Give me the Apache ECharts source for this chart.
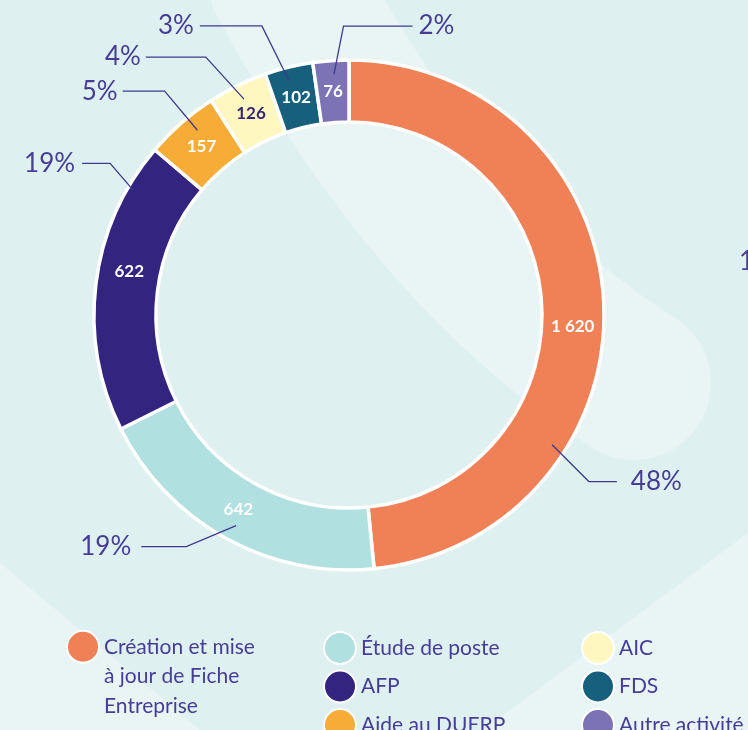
<!DOCTYPE html>
<html>
<head>
<meta charset="utf-8">
<script src="https://cdn.jsdelivr.net/npm/echarts@6/dist/echarts.min.js"></script>
<style>
html,body{margin:0;padding:0;background:#DEF0EF;}
#c{width:748px;height:730px;}
</style>
</head>
<body>
<div id="c"></div>
<script>
// ---------- DATA ----------
const categories = [
  'Création et mise à jour de Fiche Entreprise',
  'Étude de poste',
  'AFP',
  'Aide au DUERP',
  'AIC',
  'FDS',
  'Autre activité'
];
const values = [1620, 642, 622, 157, 126, 102, 76];
const legendColumn1 = ['Création et mise à jour de Fiche Entreprise'];
const legendColumn2 = ['Étude de poste', 'AFP', 'Aide au DUERP'];
const legendColumn3 = ['AIC', 'FDS', 'Autre activité'];

// ---------- STYLE ----------
const colors = ['#F08157', '#B0E0E0', '#32247F', '#F6AC37', '#FFF6C0', '#16607E', '#7B73B4'];
const valueLabelColors = ['#FFFFFF', '#FFFFFF', '#FFFFFF', '#FFFFFF', '#32247F', '#FFFFFF', '#FFFFFF'];
const TEXT = '#463E96';
const LINE = '#3F3A8F';
const BG_LIGHT = '#E8F5F4';
const FONT = 'Lato, "Noto Sans", sans-serif';
const CX = 349, CY = 315, R0 = 193, R1 = 255;
// angular nudges (deg) for the in-ring value labels
const valueShift = [5.8, 0.7, 4.2, 0, 0, 0, 0];
// callout geometry: angular shift of start, elbow shift, radii, horizontal length, side, text gap
const callout = [
  {shift: 35.4, eShift: 2.2, r0: 241, r1: 292, len: 28, side: 1, gap: 14},
  {shift: -0.7, eShift: 6.9, r0: 239, r1: 283, len: 45, side: -1, gap: 10},
  {shift: 23.2, eShift: 2.3, r0: 250, r1: 283, len: 28, side: -1, gap: 7},
  {shift: 1.8, eShift: -0.1, r0: 239, r1: 290, len: 42, side: -1, gap: 5},
  {shift: 0, eShift: -3.1, r0: 240, r1: 295, len: 60, side: -1, gap: 5},
  {shift: -0.7, eShift: -2.4, r0: 242, r1: 302, len: 62, side: -1, gap: 6},
  {shift: 0.5, eShift: 2.5, r0: 241, r1: 289, len: 69, side: 1, gap: 6}
];
// two leading blank lines keep the first text line level with the legend dot
const legendWrap = {
  'Création et mise à jour de Fiche Entreprise': '\n\nCréation et mise\nà jour de Fiche\nEntreprise'
};

// ---------- helpers ----------
const total = values.reduce((a, b) => a + b, 0);
let acc = 0;
const midAngles = values.map(v => { const m = (acc + v / 2) / total * 360; acc += v; return m; });
function polar(r, deg) {
  const a = deg * Math.PI / 180;
  return [CX + r * Math.sin(a), CY - r * Math.cos(a)];
}
function fmtNum(v) { return String(v).replace(/\B(?=(\d{3})+(?!\d))/g, ' '); }

const chart = echarts.init(document.getElementById('c'), null, {renderer: 'canvas'});

function legendCfg(data, left, extra) {
  return Object.assign({
    data: data,
    orient: 'vertical',
    left: left,
    top: 631,
    height: 200,
    padding: 0,
    icon: 'circle',
    itemWidth: 32,
    itemHeight: 32,
    itemGap: 4.5,
    selectedMode: false,
    textStyle: {fontFamily: FONT, fontSize: 21, color: TEXT}
  }, extra || {});
}

const option = {
  backgroundColor: '#DEF0EF',
  animation: false,
  graphic: {
    elements: [
      {type: 'bezierCurve', silent: true, z: 0,
        shape: {x1: 285, y1: -20, cpx1: 360, cpy1: 120, cpx2: 470, cpy2: 280, x2: 634, y2: 383},
        style: {fill: null, stroke: BG_LIGHT, lineWidth: 154, lineCap: 'round'}},
      {type: 'polygon', silent: true, z: 0,
        shape: {points: [[0, 563], [200, 730], [0, 730]]}, style: {fill: BG_LIGHT}},
      {type: 'polygon', silent: true, z: 0,
        shape: {points: [[748, 533], [748, 730], [483, 730]]}, style: {fill: BG_LIGHT}},
      {type: 'text', silent: true, z: 0, x: 739, y: 262,
        style: {text: '1', fill: TEXT, font: '400 26px ' + FONT, verticalAlign: 'middle'}}
    ]
  },
  legend: [
    legendCfg(legendColumn1, 66, {
      top: 573,
      formatter: n => legendWrap[n] || n,
      textStyle: {fontFamily: FONT, fontSize: 21, color: TEXT, lineHeight: 29.5}
    }),
    legendCfg(legendColumn2, 323),
    legendCfg(legendColumn3, 581)
  ],
  series: [
    {
      type: 'pie',
      name: 'ring',
      center: [CX, CY],
      radius: [R0, R1],
      startAngle: 90,
      clockwise: true,
      avoidLabelOverlap: false,
      silent: true,
      z: 3,
      itemStyle: {borderColor: '#FFFFFF', borderWidth: 3.5},
      label: {
        show: true, position: 'inside',
        formatter: p => fmtNum(p.value),
        fontFamily: FONT, fontWeight: 'bold', fontSize: 17
      },
      labelLine: {show: false},
      labelLayout: function (p) {
        const i = p.dataIndex;
        const pt = polar((R0 + R1) / 2, midAngles[i] + valueShift[i]);
        return {x: pt[0], y: pt[1], align: 'center', verticalAlign: 'middle'};
      },
      emphasis: {disabled: true},
      data: categories.map((n, i) => ({
        name: n, value: values[i],
        itemStyle: {color: colors[i]},
        label: {color: valueLabelColors[i]}
      }))
    },
    {
      type: 'pie',
      name: 'percent',
      center: [CX, CY],
      radius: [0, 240],
      startAngle: 90,
      clockwise: true,
      avoidLabelOverlap: false,
      percentPrecision: 0,
      silent: true,
      z: 4,
      itemStyle: {color: 'rgba(0,0,0,0)', borderWidth: 0},
      label: {
        show: true, position: 'outside', formatter: '{d}%',
        fontFamily: FONT, fontWeight: 400, fontSize: 26, color: TEXT
      },
      labelLine: {show: true, length: 40, length2: 40, lineStyle: {color: LINE, width: 1.3}},
      labelLayout: function (p) {
        const i = p.dataIndex;
        const c = callout[i];
        const th = midAngles[i] + c.shift;
        const s = polar(c.r0, th);
        const e = polar(c.r1, th + c.eShift);
        const endX = e[0] + c.side * c.len;
        return {
          x: endX + c.side * c.gap, y: e[1],
          align: c.side > 0 ? 'left' : 'right', verticalAlign: 'middle',
          labelLinePoints: [s, e, [endX, e[1]]]
        };
      },
      emphasis: {disabled: true},
      data: categories.map((n, i) => ({name: n, value: values[i]}))
    }
  ]
};
chart.setOption(option);
</script>
</body>
</html>
